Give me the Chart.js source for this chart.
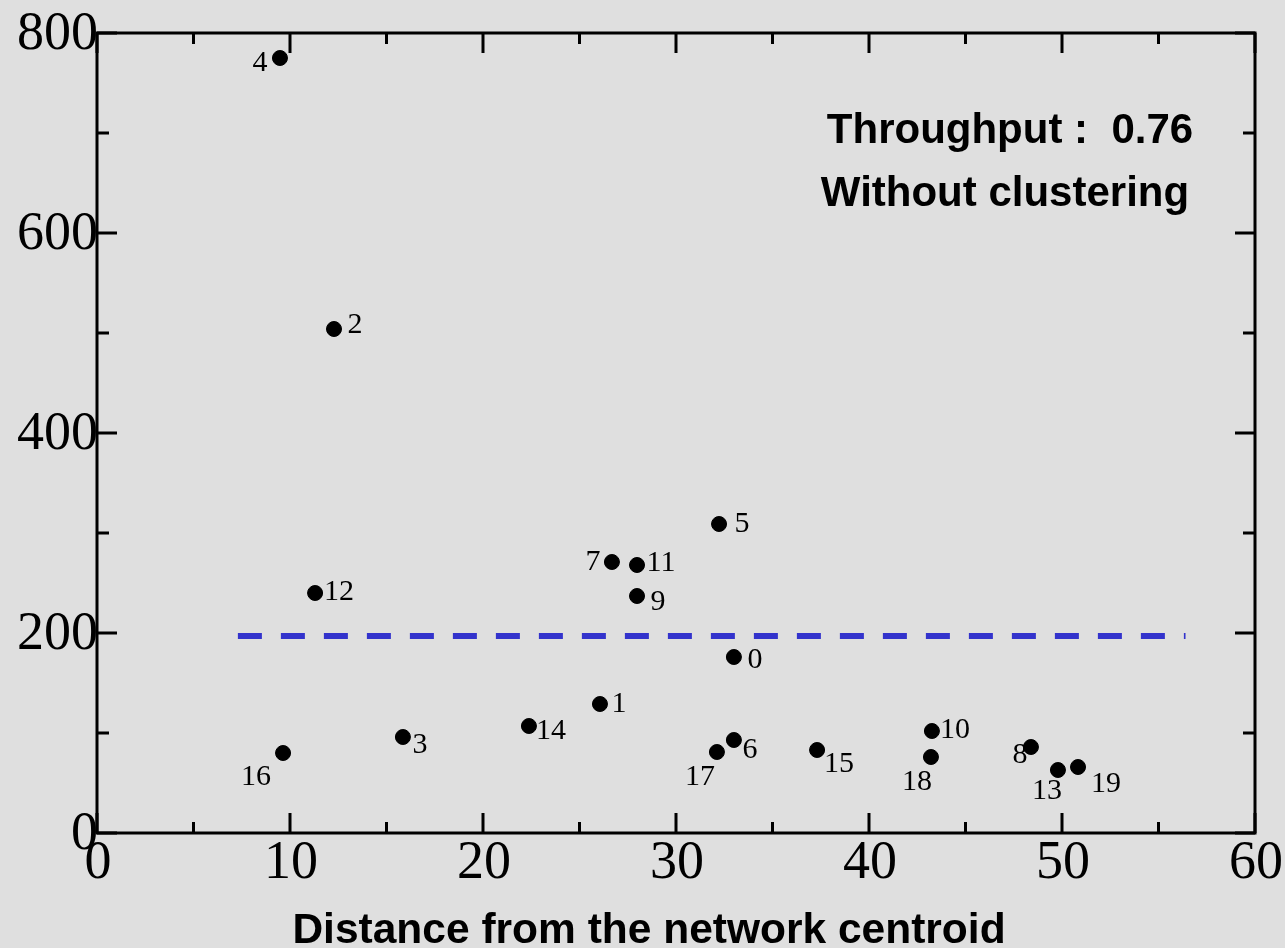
<!DOCTYPE html>
<html>
<head>
<meta charset="utf-8">
<script src="https://cdn.jsdelivr.net/npm/chart.js@4.4.1/dist/chart.umd.min.js"></script>
<style>
  html, body { margin: 0; padding: 0; background: #dfdfdf; }
  #wrap { width: 1285px; height: 948px; position: relative; }
</style>
</head>
<body>
<div id="wrap"><canvas id="chart"></canvas></div>
<script>
// node ids, distance from centroid and value
var nodeIds   = [0, 1, 2, 3, 4, 5, 6, 7, 8, 9, 10, 11, 12, 13, 14, 15, 16, 17, 18, 19];
var distances = [33.0, 26.06, 12.28, 15.85, 9.48, 32.23, 33.0, 26.68, 48.39, 27.98,
                 43.26, 27.98, 11.30, 49.79, 22.38, 37.31, 9.64, 32.12, 43.21, 50.83];
var values    = [176, 129, 504, 96, 775, 309, 93, 271, 86, 237,
                 102, 268, 240, 63, 107, 83, 80, 81, 76, 66];

// dashed threshold line (average)
var thresholdX = [7.3, 56.4];
var thresholdY = [197, 197];

var xTicks = [0, 10, 20, 30, 40, 50, 60];
var yTicks = [0, 200, 400, 600, 800];
var xMinor = [5, 15, 25, 35, 45, 55];
var yMinor = [100, 300, 500, 700];

// where each node label sits relative to its dot (px)
var labelOffsets = [
  [21, 3], [19, 0], [21, -4], [17, 8], [-20, 5], [23, 0], [16, 10], [-19, 0],
  [-11, 8], [21, 6], [23, -1], [24, -2], [24, -1], [-11, 21], [22, 5], [22, 14],
  [-27, 24], [-17, 25], [-14, 25], [28, 17]
];

var pts = distances.map(function (d, i) { return { x: d, y: values[i] }; });
var linePts = thresholdX.map(function (x, i) { return { x: x, y: thresholdY[i] }; });

/*
 * Frame, inward ticks, tick labels, titles and node labels
 */
var framePlugin = {
  id: 'frame',
  afterDatasetsDraw: function (chart) {
    var ctx = chart.ctx;
    var xs = chart.scales.x, ys = chart.scales.y;
    var a = chart.chartArea;
    ctx.save();
    ctx.strokeStyle = '#000';
    ctx.lineWidth = 3;
    ctx.strokeRect(a.left, a.top, a.right - a.left, a.bottom - a.top);

    ctx.beginPath();
    xTicks.concat(xMinor).forEach(function (v) {
      var len = xTicks.indexOf(v) >= 0 ? 20 : 11;
      var px = xs.getPixelForValue(v);
      ctx.moveTo(px, a.bottom); ctx.lineTo(px, a.bottom - len);
      ctx.moveTo(px, a.top); ctx.lineTo(px, a.top + len);
    });
    yTicks.concat(yMinor).forEach(function (v) {
      var len = yTicks.indexOf(v) >= 0 ? 20 : 12;
      var py = ys.getPixelForValue(v);
      ctx.moveTo(a.left, py); ctx.lineTo(a.left + len, py);
      ctx.moveTo(a.right, py); ctx.lineTo(a.right - len, py);
    });
    ctx.stroke();

    // tick labels
    ctx.fillStyle = '#000';
    ctx.font = '54px "Liberation Serif", "Times New Roman", serif';
    ctx.textBaseline = 'alphabetic';
    ctx.textAlign = 'center';
    xTicks.forEach(function (v) {
      ctx.fillText(String(v), xs.getPixelForValue(v) + 1, a.bottom + 45);
    });
    ctx.textAlign = 'right';
    yTicks.forEach(function (v) {
      ctx.fillText(String(v), a.left + 1, ys.getPixelForValue(v) + 16);
    });

    // axis title
    ctx.font = 'bold 42.5px "Liberation Sans", Arial, sans-serif';
    ctx.textAlign = 'center';
    ctx.fillText('Distance from the network centroid', 649, 943);

    // annotation
    ctx.font = 'bold 42px "Liberation Sans", Arial, sans-serif';
    ctx.textBaseline = 'middle';
    ctx.fillText('Throughput :  0.76', 1010, 131);
    ctx.fillText('Without clustering', 1005, 194);

    // node labels
    ctx.font = '30px "Liberation Serif", "Times New Roman", serif';
    ctx.textAlign = 'center';
    ctx.textBaseline = 'middle';
    nodeIds.forEach(function (id, i) {
      var px = xs.getPixelForValue(distances[i]);
      var py = ys.getPixelForValue(values[i]);
      var o = labelOffsets[i];
      ctx.fillText(String(id), px + o[0], py + o[1]);
    });
    ctx.restore();
  }
};

var bgPlugin = {
  id: 'bg',
  beforeDraw: function (chart) {
    var ctx = chart.ctx;
    ctx.save();
    ctx.fillStyle = '#dfdfdf';
    ctx.fillRect(0, 0, chart.width, chart.height);
    ctx.restore();
  }
};

var ctx = document.getElementById('chart').getContext('2d');
var chart = new Chart(ctx, {
  type: 'scatter',
  data: {
    datasets: [{
      type: 'line',
      data: linePts,
      borderColor: '#3333cc',
      borderWidth: 6,
      borderDash: [24, 19],
      pointRadius: 0,
      fill: false
    }, {
      data: pts,
      backgroundColor: '#000',
      borderColor: '#000',
      pointRadius: 7.5,
      pointHoverRadius: 7.5
    }]
  },
  options: {
    responsive: true,
    maintainAspectRatio: false, // fill the fixed-size wrapper
    animation: false,
    clip: false,
    layout: {
      padding: { left: 97, top: 33, right: 30, bottom: 115 }
    },
    plugins: {
      legend: { display: false },
      tooltip: { enabled: false }
    },
    scales: {
      x: { type: 'linear', min: 0, max: 60, display: false },
      y: { type: 'linear', min: 0, max: 800, display: false }
    }
  },
  plugins: [bgPlugin, framePlugin]
});
</script>
</body>
</html>
